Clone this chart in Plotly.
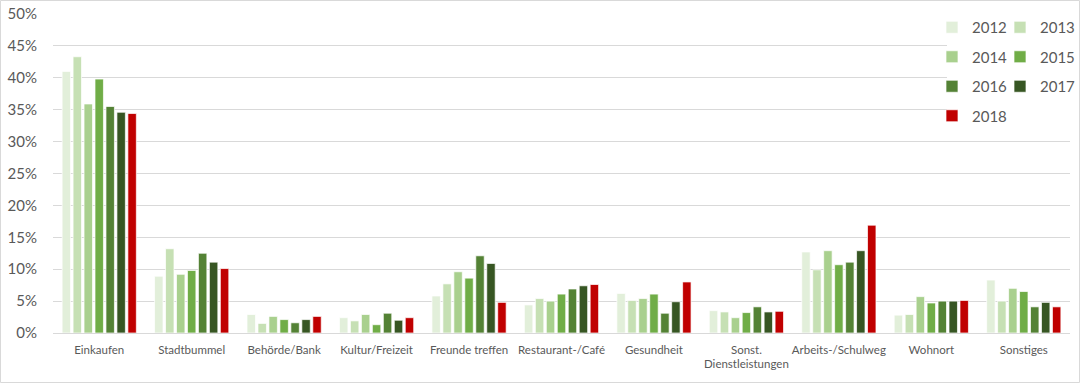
import plotly.graph_objects as go

categories = ["Einkaufen", "Stadtbummel", "Behörde/Bank", "Kultur/Freizeit", "Freunde treffen",
              "Restaurant-/Café", "Gesundheit", "Sonst.<br>Dienstleistungen", "Arbeits-/Schulweg",
              "Wohnort", "Sonstiges"]
years = ["2012", "2013", "2014", "2015", "2016", "2017", "2018"]

v2012 = [0.410, 0.089, 0.029, 0.024, 0.058, 0.044, 0.062, 0.035, 0.127, 0.028, 0.083]
v2013 = [0.433, 0.132, 0.015, 0.019, 0.077, 0.054, 0.051, 0.033, 0.099, 0.029, 0.050]
v2014 = [0.359, 0.092, 0.026, 0.029, 0.096, 0.050, 0.054, 0.024, 0.129, 0.057, 0.070]
v2015 = [0.398, 0.098, 0.021, 0.013, 0.086, 0.061, 0.061, 0.032, 0.107, 0.047, 0.065]
v2016 = [0.355, 0.125, 0.016, 0.031, 0.121, 0.069, 0.031, 0.041, 0.111, 0.050, 0.041]
v2017 = [0.346, 0.111, 0.021, 0.020, 0.109, 0.074, 0.049, 0.033, 0.129, 0.050, 0.048]
v2018 = [0.344, 0.101, 0.026, 0.024, 0.048, 0.076, 0.080, 0.034, 0.169, 0.051, 0.041]

series = [v2012, v2013, v2014, v2015, v2016, v2017, v2018]
colors = ["#e2efda", "#c6e0b4", "#a9d08e", "#70ad47", "#548235", "#375623", "#c00000"]
legend_of = ["legend", "legend2", "legend", "legend2", "legend", "legend2", "legend"]

FONT = "Lato"
GREY = "#595959"

fig = go.Figure()
for y, vals, col, lg in zip(years, series, colors, legend_of):
    fig.add_trace(go.Bar(
        x=categories, y=vals, name=y, marker=dict(color=col, line=dict(color="white", width=0.7)),
        legend=lg, legendgroup=y,
    ))

W, H = 1080, 383
ML, MR, MT, MB = 53, 10, 14, 50
PW = W - ML - MR
PH = H - MT - MB

leg_common = dict(
    orientation="v", bgcolor="rgba(0,0,0,0)", borderwidth=0,
    font=dict(family=FONT, size=15, color=GREY),
    tracegroupgap=7, xanchor="left", yanchor="top", y=1 + 3 / PH,
    itemclick=False, itemdoubleclick=False,
)

fig.update_layout(
    width=W, height=H,
    margin=dict(l=ML, r=MR, t=MT, b=MB, autoexpand=False),
    paper_bgcolor="white", plot_bgcolor="white",
    barmode="group", bargap=0.17, bargroupgap=0.23,
    font=dict(family=FONT, color=GREY),
    xaxis=dict(
        tickfont=dict(family=FONT, size=11.5, color=GREY),
        showgrid=False, showline=False, ticks="", zeroline=False, automargin=False,
        ticklabelstandoff=8,
    ),
    yaxis=dict(
        range=[0, 0.5], dtick=0.05, tickformat=".0%",
        tickfont=dict(family=FONT, size=15, color=GREY),
        showgrid=True, gridcolor="#d9d9d9", gridwidth=1,
        zeroline=True, zerolinecolor="#d9d9d9", zerolinewidth=1,
        showline=False, ticks="", automargin=False, ticklabelstandoff=15,
    ),
    legend=dict(x=(932 - ML) / PW, **leg_common),
    legend2=dict(x=(1000 - ML) / PW, **leg_common),
    shapes=[
        dict(
            type="rect", xref="paper", yref="paper",
            x0=(947 - ML) / PW, x1=1.0,
            y0=1 - (128 - MT) / PH, y1=1 + 2 / PH,
            line=dict(width=0), fillcolor="white", layer="above",
        ),
        dict(
            type="rect", xref="paper", yref="paper",
            x0=(0.5 - ML) / PW, x1=(W - 0.5 - ML) / PW,
            y0=-(H - 0.5 - MT - PH) / PH, y1=1 + (MT - 0.5) / PH,
            line=dict(color="#d9d9d9", width=1), fillcolor="rgba(0,0,0,0)", layer="above",
        ),
    ],
)

fig.write_html("out.html", config={"displayModeBar": False},
               post_script="document.body.style.margin='0';document.body.style.padding='0';")
